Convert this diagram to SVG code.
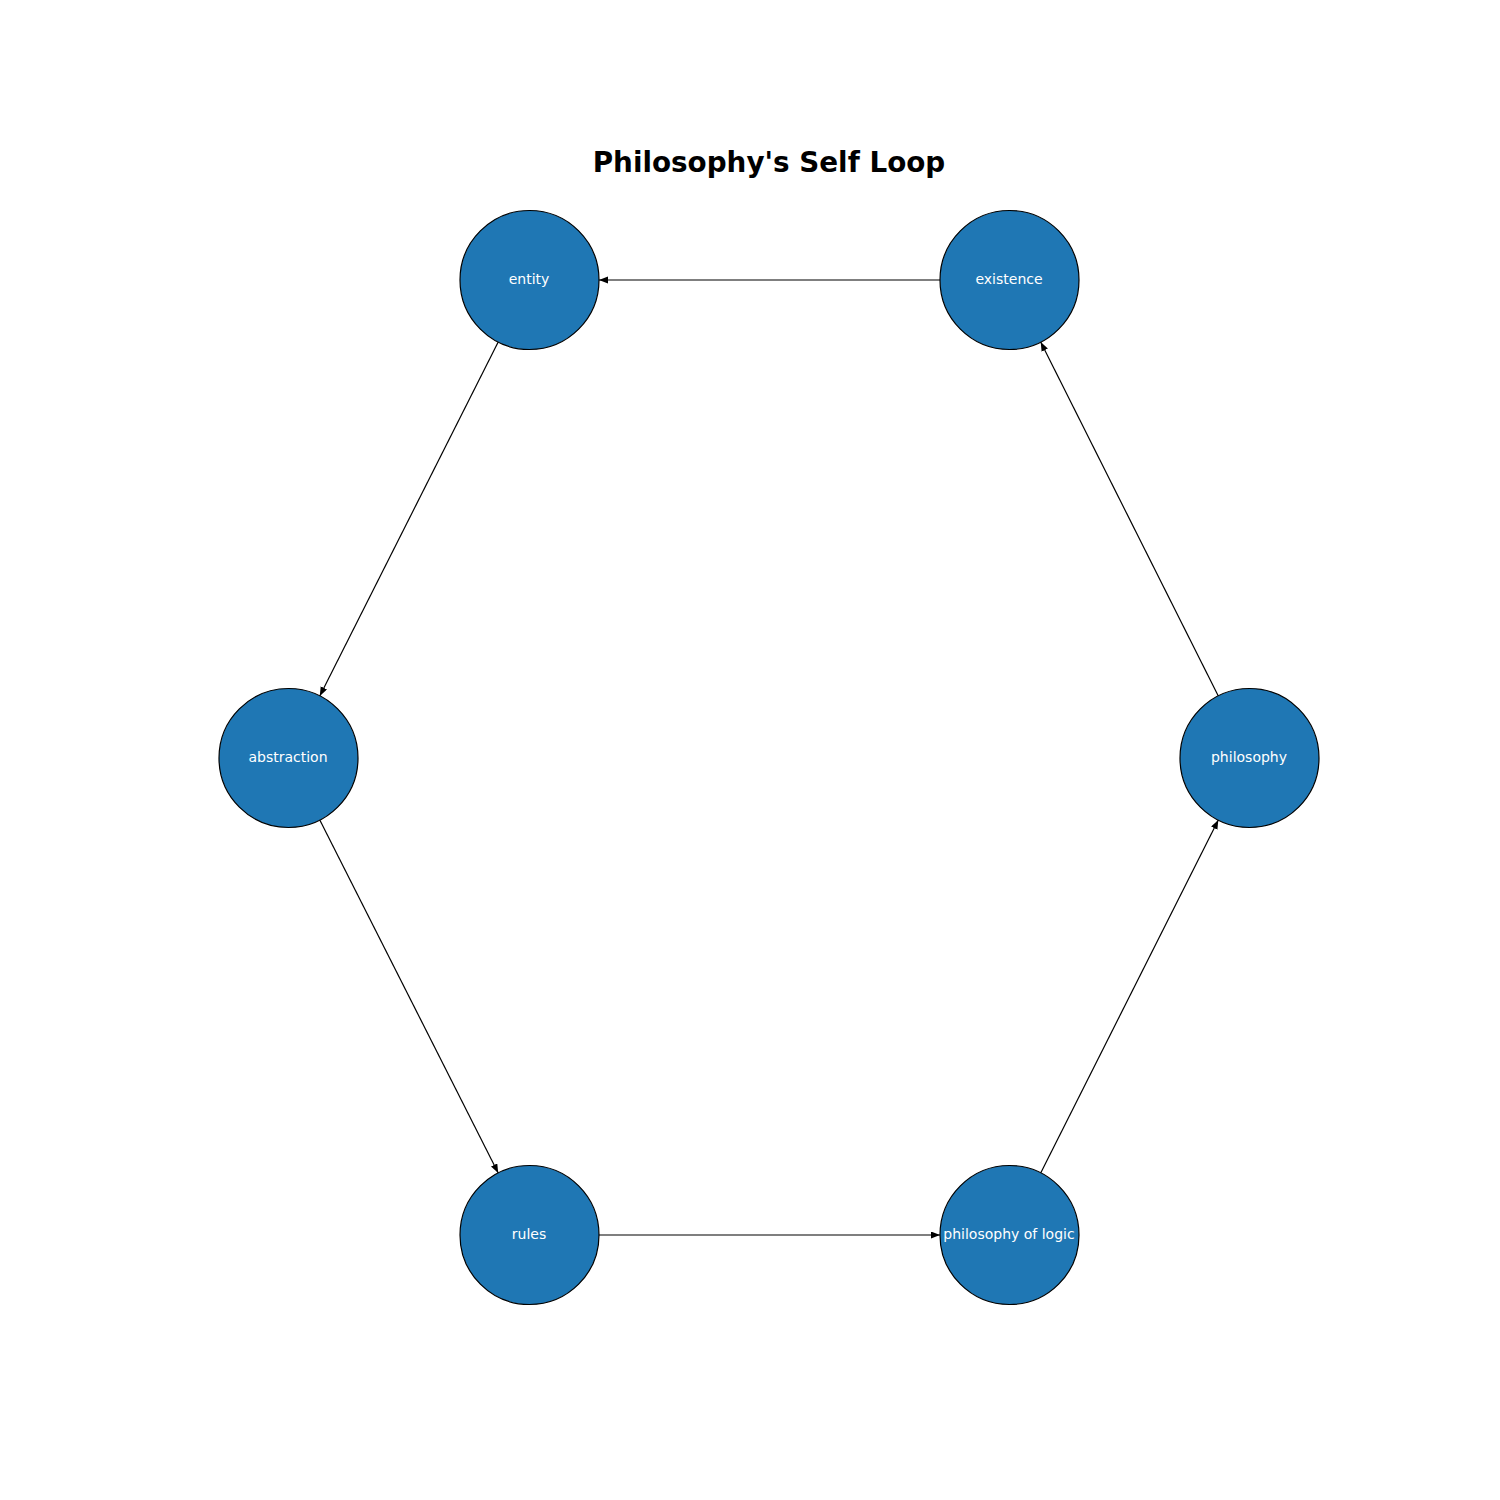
<svg xmlns="http://www.w3.org/2000/svg" width="1500" height="1500" viewBox="0 0 1500 1500">
<style>
.node circle{fill:#1f77b4;stroke:#000;stroke-width:1.2}
.node text{fill:#fff;font-family:"DejaVu Sans",sans-serif;font-size:14px;text-anchor:middle}
.edge{stroke:#000;stroke-width:1.2;fill:none;marker-end:url(#arr)}
.title{font-family:"DejaVu Sans",sans-serif;font-size:27.8px;font-weight:bold;text-anchor:middle;fill:#000}
</style>
<defs>
<marker id="arr" markerUnits="userSpaceOnUse" markerWidth="10" markerHeight="8" refX="9" refY="3.5" orient="auto">
<path d="M0,0 L9,3.5 L0,7 z" fill="#000"/>
</marker>
</defs>
<rect width="1500" height="1500" fill="#fff"/>
<text class="title" x="769" y="172">Philosophy's Self Loop</text>
<g id="edges">
<line class="edge" x1="940" y1="280" x2="599" y2="280"/>
<line class="edge" x1="498.2" y1="342.1" x2="319.8" y2="695.9"/>
<line class="edge" x1="319.8" y1="820" x2="498.2" y2="1173"/>
<line class="edge" x1="599" y1="1235" x2="940" y2="1235"/>
<line class="edge" x1="1040.7" y1="1172.9" x2="1218.3" y2="820.1"/>
<line class="edge" x1="1218.3" y1="695.9" x2="1040.7" y2="342.1"/>
</g>
<g id="entity" class="node"><circle cx="529.5" cy="280" r="69.5"/><text x="529" y="284">entity</text></g>
<g id="existence" class="node"><circle cx="1009.5" cy="280" r="69.5"/><text x="1009" y="284">existence</text></g>
<g id="abstraction" class="node"><circle cx="288.5" cy="758" r="69.5"/><text x="288" y="762">abstraction</text></g>
<g id="philosophy" class="node"><circle cx="1249.5" cy="758" r="69.5"/><text x="1249" y="762">philosophy</text></g>
<g id="rules" class="node"><circle cx="529.5" cy="1235" r="69.5"/><text x="529" y="1239">rules</text></g>
<g id="philosophy_of_logic" class="node"><circle cx="1009.5" cy="1235" r="69.5"/><text x="1009" y="1239">philosophy of logic</text></g>
</svg>
